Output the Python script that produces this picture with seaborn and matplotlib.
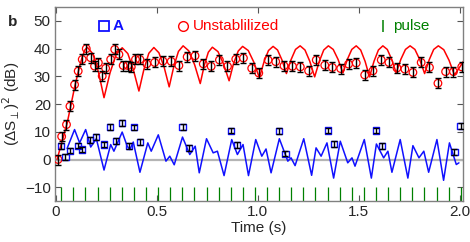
import matplotlib
matplotlib.use("Agg")
import matplotlib.pyplot as plt
import seaborn as sns

# simulated curves
unstab_t = [0.005, 0.030, 0.055, 0.075, 0.095, 0.115, 0.130, 0.143, 0.155, 0.183, 0.211, 0.238,
            0.268, 0.298, 0.328, 0.356, 0.383, 0.411, 0.436, 0.460, 0.485, 0.510, 0.536, 0.561,
            0.584, 0.607, 0.630, 0.658, 0.687, 0.715, 0.735, 0.755, 0.775, 0.803, 0.830, 0.858,
            0.880, 0.903, 0.925, 0.953, 0.980, 1.008, 1.031, 1.053, 1.076, 1.098, 1.120, 1.142,
            1.165, 1.187, 1.210, 1.234, 1.258, 1.282, 1.305, 1.327, 1.350, 1.374, 1.398, 1.422,
            1.444, 1.466, 1.488, 1.510, 1.532, 1.554, 1.576, 1.598, 1.620, 1.642, 1.664, 1.686,
            1.709, 1.732, 1.755, 1.779, 1.803, 1.827, 1.850, 1.872, 1.895, 1.922, 1.948, 1.975,
            2.000, 2.020]
unstab_curve = [0.0, 6.5, 13.0, 20.0, 27.0, 33.0, 37.0, 39.5, 40.5, 38.1, 31.4, 22.3,
                31.3, 37.9, 40.3, 38.2, 32.5, 24.7, 32.6, 38.3, 40.4, 38.5, 33.3, 26.2,
                33.6, 39.0, 41.0, 39.2, 34.2, 27.4, 34.0, 38.7, 40.5, 38.9, 34.5, 28.4,
                34.6, 39.1, 40.8, 39.3, 35.2, 29.5, 35.2, 39.3, 40.8, 39.5, 35.9, 31.0,
                36.0, 39.7, 41.0, 39.5, 35.4, 29.8, 35.4, 39.5, 41.0, 39.7, 36.1, 31.2,
                36.1, 39.7, 41.0, 39.5, 35.4, 29.8, 35.4, 39.5, 41.0, 39.7, 36.1, 31.2,
                36.1, 39.7, 41.0, 39.7, 36.0, 31.0, 36.0, 39.7, 41.0, 39.6, 35.8, 30.5,
                33.2, 35.5]

a_t = [0.055, 0.092, 0.117, 0.147, 0.172, 0.200, 0.238, 0.271, 0.287, 0.328, 0.353, 0.366,
       0.383, 0.416, 0.455, 0.472, 0.507, 0.545, 0.564, 0.586, 0.627, 0.663, 0.690, 0.710,
       0.746, 0.779, 0.800, 0.833, 0.871, 0.899, 0.927, 0.954, 0.990, 1.020, 1.041, 1.066,
       1.107, 1.149, 1.165, 1.185, 1.228, 1.267, 1.289, 1.314, 1.343, 1.376, 1.409, 1.446,
       1.467, 1.482, 1.528, 1.563, 1.588, 1.624, 1.645, 1.665, 1.706, 1.744, 1.769, 1.799,
       1.823, 1.847, 1.888, 1.921, 1.950, 1.984, 1.997]
a_curve = [4.0, 10.8, 6.0, 10.8, 4.5, 7.5, -3.8, 5.4, 3.0, 9.9, 4.8, 3.6,
           6.3, -4.6, 6.0, 3.0, 8.9, -0.6, 1.2, -1.9, 8.1, 1.8, 4.8, -4.8,
           7.5, 2.4, 3.0, -5.8, 7.2, 1.8, 5.4, -5.8, 7.2, 1.2, 3.8, -4.8,
           7.5, -0.6, 0.6, -2.2, 7.5, -5.7, 4.2, 1.2, 6.0, -6.7, 6.6, -1.2,
           0.6, -2.4, 7.2, -6.7, 5.6, 0.6, 3.0, -4.6, 7.2, -6.7, 5.0, 0.6,
           3.0, -4.6, 7.2, -7.5, 6.0, -1.8, -1.2]

# measured points
unstab_pt_t = [0.010, 0.028, 0.052, 0.069, 0.092, 0.110, 0.130, 0.150, 0.172, 0.191, 0.210,
               0.229, 0.246, 0.271, 0.291, 0.312, 0.333, 0.356, 0.373, 0.394, 0.416, 0.450,
               0.489, 0.530, 0.571, 0.609, 0.650, 0.689, 0.730, 0.769, 0.810, 0.850, 0.891,
               0.929, 0.970, 1.005, 1.051, 1.089, 1.130, 1.172, 1.211, 1.252, 1.290, 1.332,
               1.370, 1.411, 1.450, 1.488, 1.530, 1.571, 1.612, 1.650, 1.690, 1.729, 1.769,
               1.810, 1.851, 1.893, 1.931, 1.970, 2.011]
unstab_pt_v = [0.0, 8.3, 12.6, 19.2, 27.0, 31.9, 36.1, 40.0, 36.7, 33.7, 34.9,
               30.1, 32.9, 36.1, 39.7, 37.9, 33.9, 33.9, 33.4, 36.1, 36.1, 34.5,
               35.0, 35.5, 35.4, 33.9, 37.0, 37.4, 34.5, 33.6, 35.9, 33.6, 36.2,
               36.6, 32.9, 31.2, 35.9, 35.3, 33.8, 33.6, 33.4, 32.0, 35.9, 34.0,
               33.2, 32.8, 34.4, 34.8, 30.5, 32.0, 35.9, 35.0, 33.0, 32.6, 31.4,
               35.0, 33.2, 27.5, 31.7, 31.7, 33.4]
unstab_err = 1.8

a_pt_t = [0.026, 0.047, 0.069, 0.108, 0.128, 0.168, 0.198, 0.238, 0.267, 0.296, 0.329, 0.360,
          0.387, 0.416, 0.627, 0.658, 0.868, 0.897, 1.107, 1.137, 1.347, 1.376, 1.587, 1.616,
          1.975, 2.005]
a_pt_v = [4.8, 1.0, 3.2, 5.0, 3.6, 7.0, 8.2, 5.4, 11.7, 6.6, 13.2, 4.8,
          11.6, 6.4, 11.8, 4.1, 10.4, 5.3, 10.2, 2.1, 10.5, 5.5, 10.5, 4.8,
          2.7, 12.0]
a_err = 1.0

pulse_t = [0.026, 0.086, 0.146, 0.206, 0.266, 0.326, 0.386, 0.446, 0.506, 0.566, 0.626, 0.686,
           0.746, 0.806, 0.866, 0.926, 0.986, 1.046, 1.106, 1.166, 1.226, 1.286, 1.346, 1.406,
           1.466, 1.526, 1.586, 1.646, 1.706, 1.766, 1.826, 1.886, 1.946, 2.006]

sns.set_theme(style="ticks")
plt.rcParams["font.family"] = ["Liberation Sans", "DejaVu Sans"]
plt.rcParams["font.size"] = 11

fig, ax = plt.subplots(figsize=(4.7, 2.42), dpi=100)
fig.subplots_adjust(left=0.117, right=0.985, top=0.971, bottom=0.169)

ax.axhline(0, color="#b4b4b4", lw=1.6, zorder=1)
sns.lineplot(x=unstab_t, y=unstab_curve, color="red", lw=1.1, sort=False, ax=ax, zorder=2)
sns.lineplot(x=a_t, y=a_curve, color="#1010ff", lw=1.1, sort=False, ax=ax, zorder=2)
ax.vlines(pulse_t, -15, -10, color="green", lw=0.9, zorder=2)

sns.scatterplot(x=unstab_pt_t, y=unstab_pt_v, marker="o", s=30, facecolor="none",
                edgecolor="red", linewidth=0.9, ax=ax, zorder=3)
sns.scatterplot(x=a_pt_t, y=a_pt_v, marker="s", s=20, facecolor="none",
                edgecolor="#1010ff", linewidth=1.0, ax=ax, zorder=3)
ax.errorbar(unstab_pt_t, unstab_pt_v, yerr=unstab_err, fmt="none", ecolor="black",
            elinewidth=1.0, capsize=2.5, capthick=1.0, zorder=4)
ax.errorbar(a_pt_t, a_pt_v, yerr=a_err, fmt="none", ecolor="black",
            elinewidth=1.0, capsize=2.0, capthick=1.0, zorder=4)

# hand-made legend row
ly = 0.902
ax.plot(0.120, ly, "s", mfc="none", mec="#1010ff", ms=6.5, mew=1.3, transform=ax.transAxes)
ax.text(0.142, ly, "A", color="#1010ff", fontweight="bold", va="center", transform=ax.transAxes)
ax.plot(0.314, ly, "o", mfc="none", mec="red", ms=7, mew=1.0, transform=ax.transAxes)
ax.text(0.338, ly, "Unstablilized", color="red", va="center", transform=ax.transAxes)
ax.plot(0.804, ly, "|", color="green", ms=8.5, mew=1.1, transform=ax.transAxes)
ax.text(0.828, ly, "pulse", color="green", va="center", transform=ax.transAxes)

ax.set_xlim(-0.005, 2.017)
ax.set_ylim(-15, 55)
ax.set_xticks([0, 0.5, 1.0, 1.5, 2.0])
ax.set_xticklabels(["0", "0.5", "1.0", "1.5", "2.0"])
ax.set_yticks([-10, 0, 10, 20, 30, 40, 50])
ax.set_yticklabels(["\u221210", "0", "10", "20", "30", "40", "50"])
ax.tick_params(direction="in", top=True, right=True, length=4, width=0.8,
               color="#555555", labelsize=11, pad=3)
for sp in ax.spines.values():
    sp.set_color("#808080")
    sp.set_linewidth(1.0)

ax.set_xlabel("Time (s)", fontsize=11, labelpad=1)
ax.set_ylabel("(\u0394S$_{\\perp}$)$^2$ (dB)", fontsize=11, labelpad=2)
fig.text(0.027, 0.91, "b", fontweight="bold", fontsize=11, ha="center", va="center")

fig.savefig("out.png", dpi=100)
